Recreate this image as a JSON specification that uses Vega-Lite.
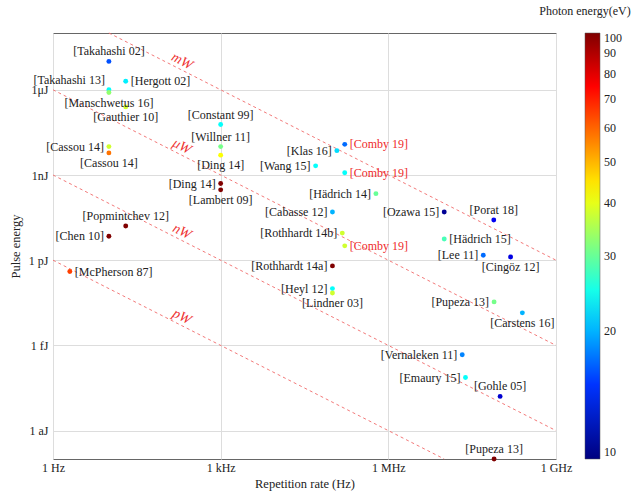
{
  "$schema": "https://vega.github.io/schema/vega-lite/v6.json",
  "width": 503,
  "height": 426,
  "autosize": "none",
  "padding": {"left": 53, "top": 33, "right": 83, "bottom": 35},
  "background": "white",
  "config": {
    "font": "Liberation Serif",
    "view": {"stroke": "#666666", "strokeWidth": 1},
    "text": {"font": "Liberation Serif"},
    "legend": {"labelFont": "Liberation Serif", "titleFont": "Liberation Serif"},
    "axis": {
      "labelFont": "Liberation Serif",
      "labelFontSize": 12,
      "labelColor": "#222222",
      "titleFont": "Liberation Serif",
      "titleFontSize": 12.5,
      "titleFontWeight": "normal",
      "titleColor": "#222222",
      "gridColor": "#dddddd",
      "gridWidth": 1,
      "domain": false,
      "ticks": false,
      "labelFlush": false
    }
  },
  "datasets": {
    "refs": [
      {"ref": "[Takahashi 02]", "rate": 10, "energy": 1e-5, "eV": 16},
      {"ref": "[Hergott 02]", "rate": 20, "energy": 2e-6, "eV": 23},
      {"ref": "[Takahashi 13]", "rate": 10, "energy": 1e-6, "eV": 24},
      {"ref": "[Manschwetus 16]", "rate": 10, "energy": 8e-7, "eV": 33},
      {"ref": "[Gauthier 10]", "rate": 20, "energy": 2.5e-7, "eV": 38},
      {"ref": "[Cassou 14]", "rate": 10, "energy": 1e-8, "eV": 38},
      {"ref": "[Cassou 14]", "rate": 10, "energy": 6e-9, "eV": 58},
      {"ref": "[Constant 99]", "rate": 1000, "energy": 6e-8, "eV": 24},
      {"ref": "[Willner 11]", "rate": 1000, "energy": 1e-8, "eV": 31},
      {"ref": "[Ding 14]", "rate": 1000, "energy": 5e-9, "eV": 42},
      {"ref": "[Ding 14]", "rate": 1000, "energy": 5e-10, "eV": 100},
      {"ref": "[Lambert 09]", "rate": 1000, "energy": 3e-10, "eV": 100},
      {"ref": "[Popmintchev 12]", "rate": 20, "energy": 1.6e-11, "eV": 100},
      {"ref": "[Chen 10]", "rate": 10, "energy": 7e-12, "eV": 100},
      {"ref": "[McPherson 87]", "rate": 2, "energy": 4e-13, "eV": 65},
      {"ref": "[Comby 19]", "rate": 166000, "energy": 1.2e-8, "eV": 17},
      {"ref": "[Klas 16]", "rate": 120000, "energy": 7.2e-9, "eV": 22},
      {"ref": "[Wang 15]", "rate": 50000, "energy": 2.1e-9, "eV": 24},
      {"ref": "[Comby 19]", "rate": 166000, "energy": 1.2e-9, "eV": 24},
      {"ref": "[Hädrich 14]", "rate": 600000, "energy": 2.2e-10, "eV": 30},
      {"ref": "[Cabasse 12]", "rate": 100000, "energy": 5e-11, "eV": 20},
      {"ref": "[Rothhardt 14b]", "rate": 150000, "energy": 9e-12, "eV": 38},
      {"ref": "[Comby 19]", "rate": 166000, "energy": 3.2e-12, "eV": 38},
      {"ref": "[Rothhardt 14a]", "rate": 100000, "energy": 6.3e-13, "eV": 100},
      {"ref": "[Heyl 12]", "rate": 100000, "energy": 1e-13, "eV": 24},
      {"ref": "[Lindner 03]", "rate": 100000, "energy": 7e-14, "eV": 38},
      {"ref": "[Ozawa 15]", "rate": 10000000, "energy": 5e-11, "eV": 10.5},
      {"ref": "[Porat 18]", "rate": 77000000, "energy": 2.6e-11, "eV": 13},
      {"ref": "[Hädrich 15]", "rate": 10000000, "energy": 5.6e-12, "eV": 28},
      {"ref": "[Lee 11]", "rate": 50000000, "energy": 1.5e-12, "eV": 17},
      {"ref": "[Cingöz 12]", "rate": 154000000, "energy": 1.3e-12, "eV": 12.5},
      {"ref": "[Pupeza 13]", "rate": 78000000, "energy": 3.4e-14, "eV": 31},
      {"ref": "[Carstens 16]", "rate": 250000000, "energy": 1.4e-14, "eV": 20},
      {"ref": "[Vernaleken 11]", "rate": 21000000, "energy": 4.7e-16, "eV": 18},
      {"ref": "[Emaury 15]", "rate": 24000000, "energy": 7.4e-17, "eV": 24},
      {"ref": "[Gohle 05]", "rate": 100000000, "energy": 1.6e-17, "eV": 12},
      {"ref": "[Pupeza 13]", "rate": 78000000, "energy": 1e-19, "eV": 100}
    ],
    "lines": [
      {"P": "mW", "rate": 10, "energy": 1e-4},
      {"P": "mW", "rate": 1e9, "energy": 1e-12},
      {"P": "μW", "rate": 1, "energy": 1e-6},
      {"P": "μW", "rate": 1e9, "energy": 1e-15},
      {"P": "nW", "rate": 1, "energy": 1e-9},
      {"P": "nW", "rate": 1e9, "energy": 1e-18},
      {"P": "pW", "rate": 1, "energy": 1e-12},
      {"P": "pW", "rate": 1e7, "energy": 1e-19}
    ],
    "lineLabels": [
      {"P": "mW", "rate": 175, "energy": 5.714e-6},
      {"P": "μW", "rate": 175, "energy": 5.714e-9},
      {"P": "nW", "rate": 175, "energy": 5.714e-12},
      {"P": "pW", "rate": 175, "energy": 5.714e-15}
    ]
  },
  "encoding": {
    "x": {
      "field": "rate",
      "type": "quantitative",
      "scale": {"type": "log", "domain": [1, 1e9]},
      "axis": {
        "title": "Repetition rate (Hz)",
        "values": [1, 1000, 1000000, 1000000000],
        "labelExpr": "['1 Hz','','','1 kHz','','','1 MHz','','','1 GHz'][round(log(datum.value)/LN10)]",
        "labelPadding": 3,
        "grid": true
      }
    },
    "y": {
      "field": "energy",
      "type": "quantitative",
      "scale": {"type": "log", "domain": [1e-19, 1e-4]},
      "axis": {
        "title": "Pulse energy",
        "values": [1e-18, 1e-15, 1e-12, 1e-9, 1e-6],
        "labelExpr": "round(log(datum.value)/LN10) == -18 ? '1 aJ' : round(log(datum.value)/LN10) == -15 ? '1 fJ' : round(log(datum.value)/LN10) == -12 ? '1 pJ' : round(log(datum.value)/LN10) == -9 ? '1nJ' : '1μJ'",
        "labelPadding": 5,
        "titlePadding": 6,
        "grid": true
      }
    }
  },
  "layer": [
    {
      "data": {"name": "lines"},
      "mark": {"type": "line", "strokeDash": [3, 3], "color": "#f06a6a", "strokeWidth": 0.9},
      "encoding": {"detail": {"field": "P"}}
    },
    {
      "data": {"name": "lineLabels"},
      "mark": {"type": "text", "angle": 27, "fontStyle": "italic", "fontSize": 14, "color": "#ee3333", "align": "center", "baseline": "middle", "dy": -8},
      "encoding": {"text": {"field": "P"}}
    },
    {
      "data": {"name": "refs"},
      "mark": {"type": "circle", "size": 24, "opacity": 1},
      "encoding": {
        "color": {
          "field": "eV",
          "type": "quantitative",
          "scale": {
            "type": "symlog",
            "constant": 0.1,
            "domain": [10, 13.35, 17.82, 23.77, 31.7, 42.25, 56.31, 75.04, 100],
            "range": ["#000080", "#0000ff", "#0080ff", "#00ffff", "#80ff80", "#ffff00", "#ff8000", "#ff0000", "#800000"],
            "interpolate": "rgb"
          },
          "legend": {
            "title": "Photon energy(eV)",
            "orient": "none",
            "legendX": 486,
            "legendY": -27,
            "direction": "vertical",
            "gradientLength": 426,
            "gradientThickness": 15,
            "gradientStrokeColor": "#555555",
            "gradientStrokeWidth": 0.5,
            "values": [10, 20, 30, 40, 50, 60, 70, 80, 90, 100],
            "labelFontSize": 12,
            "labelColor": "#222222",
            "labelOffset": 4,
            "labelOverlap": false,
            "labelBaseline": "middle",
            "titleFontSize": 12,
            "titleFontWeight": "normal",
            "titleColor": "#222222",
            "titleAnchor": "start",
            "titleAlign": "center",
            "titlePadding": 15
          }
        }
      }
    },
    {
      "data": {"name": "refs"},
      "transform": [{"filter": "indexof(['[Takahashi 02]','[Constant 99]','[Willner 11]','[Popmintchev 12]','[Porat 18]','[Gohle 05]'], datum.ref) >= 0 || (datum.ref === '[Pupeza 13]' && datum.eV > 50)"}],
      "mark": {"type": "text", "align": "center", "baseline": "middle", "dy": -10, "fontSize": 12, "color": "#222222"},
      "encoding": {"text": {"field": "ref"}}
    },
    {
      "data": {"name": "refs"},
      "transform": [{"filter": "indexof(['[Manschwetus 16]','[Gauthier 10]','[Lambert 09]','[Lindner 03]','[Cingöz 12]','[Carstens 16]'], datum.ref) >= 0 || (datum.ref === '[Cassou 14]' && datum.eV > 50) || (datum.ref === '[Ding 14]' && datum.eV < 50)"}],
      "mark": {"type": "text", "align": "center", "baseline": "middle", "dy": 10, "fontSize": 12, "color": "#222222"},
      "encoding": {"text": {"field": "ref"}}
    },
    {
      "data": {"name": "refs"},
      "transform": [{"filter": "indexof(['[Chen 10]','[Klas 16]','[Wang 15]','[Hädrich 14]','[Cabasse 12]','[Rothhardt 14b]','[Rothhardt 14a]','[Heyl 12]','[Ozawa 15]','[Lee 11]','[Vernaleken 11]','[Emaury 15]'], datum.ref) >= 0 || (datum.ref === '[Cassou 14]' && datum.eV < 50) || (datum.ref === '[Ding 14]' && datum.eV > 50) || (datum.ref === '[Pupeza 13]' && datum.eV < 50)"}],
      "mark": {"type": "text", "align": "right", "baseline": "middle", "dx": -5, "fontSize": 12, "color": "#222222"},
      "encoding": {"text": {"field": "ref"}}
    },
    {
      "data": {"name": "refs"},
      "transform": [{"filter": "indexof(['[Hergott 02]','[McPherson 87]','[Comby 19]','[Hädrich 15]'], datum.ref) >= 0"}],
      "mark": {"type": "text", "align": "left", "baseline": "middle", "dx": 5, "fontSize": 12},
      "encoding": {
        "text": {"field": "ref"},
        "color": {"condition": {"test": "datum.ref === '[Comby 19]'", "value": "#ee2a2a"}, "value": "#222222"}
      }
    },
    {
      "data": {"name": "refs"},
      "transform": [{"filter": "datum.ref === '[Takahashi 13]'"}],
      "mark": {"type": "text", "align": "right", "baseline": "middle", "dx": -4, "dy": -10, "fontSize": 12, "color": "#222222"},
      "encoding": {"text": {"field": "ref"}}
    }
  ]
}
